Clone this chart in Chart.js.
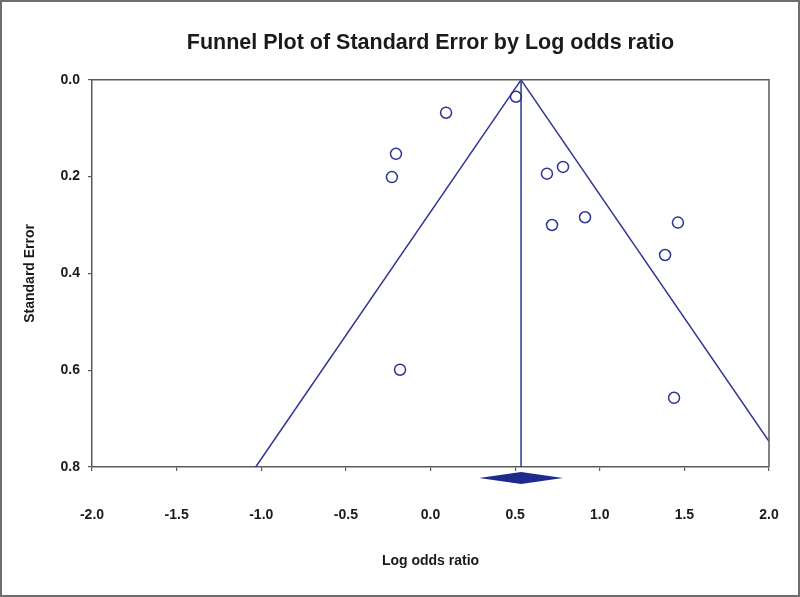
<!DOCTYPE html>
<html>
<head>
<meta charset="utf-8">
<script src="https://cdn.jsdelivr.net/npm/chart.js@4/dist/chart.umd.min.js"></script>
<style>
  html, body { margin: 0; padding: 0; background: #ffffff; }
  #wrap { width: 800px; height: 597px; position: relative; }
</style>
</head>
<body>
<div id="wrap"><canvas id="c" width="800" height="597"></canvas></div>
<script>
// Study points (Log odds ratio, Standard Error)
const studyLogOR = [0.505, 0.092, -0.204, -0.228, 0.688, 0.783, 0.913, 0.718, 1.462, 1.386, -0.180, 1.439];
const studySE    = [0.035, 0.068, 0.153, 0.201, 0.194, 0.180, 0.284, 0.300, 0.295, 0.362, 0.599, 0.657];

// Funnel (summary estimate and pseudo 95% limits)
const summaryX   = [0.535, 0.535];
const summaryY   = [0.0, 0.8];
const funnelLeftX  = [0.535, -1.033];
const funnelLeftY  = [0.0, 0.8];
const funnelRightX = [0.535, 2.0];
const funnelRightY = [0.0, 0.747];

// Summary diamond (below the axis)
const diamondX = [0.287, 0.535, 0.783, 0.535];
const diamondY = [0.8227, 0.8105, 0.8227, 0.835];

// Axis ticks
const xTicks = [-2.0, -1.5, -1.0, -0.5, 0.0, 0.5, 1.0, 1.5, 2.0];
const yTicks = [0.0, 0.2, 0.4, 0.6, 0.8];

const NAVY = '#2c3592';
const AXIS = '#5a5a5a';
const TEXT = '#1a1a1a';
const FONT = "Arial, 'Liberation Sans', Helvetica, sans-serif";

const zip = (xs, ys) => xs.map((x, i) => ({ x: x, y: ys[i] }));

const framePlugin = {
  id: 'frame',
  beforeDraw(chart) {
    const ctx = chart.ctx;
    ctx.save();
    ctx.fillStyle = '#ffffff';
    ctx.fillRect(0, 0, chart.width, chart.height);
    ctx.restore();
  },
  afterDraw(chart) {
    const ctx = chart.ctx;
    const a = chart.chartArea;
    ctx.save();
    // plot frame (top & right sides)
    ctx.strokeStyle = AXIS;
    ctx.lineWidth = 1.5;
    ctx.beginPath();
    ctx.moveTo(a.left, a.top);
    ctx.lineTo(a.right, a.top);
    ctx.lineTo(a.right, a.bottom);
    ctx.stroke();
    // summary diamond through scales
    const xs = chart.scales.x, ys = chart.scales.y;
    ctx.fillStyle = '#1e2a8c';
    ctx.beginPath();
    diamondX.forEach((v, i) => {
      const px = xs.getPixelForValue(v), py = ys.getPixelForValue(diamondY[i]);
      if (i === 0) ctx.moveTo(px, py); else ctx.lineTo(px, py);
    });
    ctx.closePath();
    ctx.fill();
    // outer border
    ctx.strokeStyle = '#6e6e6e';
    ctx.lineWidth = 2;
    ctx.strokeRect(1, 1, chart.width - 2, chart.height - 2);
    ctx.restore();
  }
};

const lineDs = (data) => ({
  type: 'line',
  data: data,
  showLine: true,
  borderColor: NAVY,
  borderWidth: 1.5,
  pointRadius: 0,
  fill: false,
  tension: 0
});

new Chart(document.getElementById('c'), {
  type: 'scatter',
  data: {
    datasets: [
      {
        data: zip(studyLogOR, studySE),
        pointStyle: 'circle',
        pointRadius: 5.5,
        pointHoverRadius: 5.5,
        borderColor: NAVY,
        backgroundColor: 'rgba(255,255,255,0)',
        borderWidth: 1.5
      },
      lineDs(zip(summaryX, summaryY)),
      lineDs(zip(funnelLeftX, funnelLeftY)),
      lineDs(zip(funnelRightX, funnelRightY))
    ]
  },
  options: {
    responsive: false,
    animation: false,
    events: [],
    layout: { padding: { left: 0, right: 31, top: 0, bottom: 0 } },
    plugins: {
      legend: { display: false },
      tooltip: { enabled: false },
      title: {
        display: true,
        fullSize: false,
        text: 'Funnel Plot of Standard Error by Log odds ratio',
        color: TEXT,
        font: { family: FONT, size: 21.5, weight: 'bold', lineHeight: 1.2 },
        padding: { top: 30, bottom: 24 }
      }
    },
    scales: {
      x: {
        type: 'linear',
        min: -2, max: 2,
        afterFit: (s) => { s.height = 130; s.paddingLeft = 0; s.paddingRight = 0; },
        afterBuildTicks: (s) => { s.ticks = xTicks.map(v => ({ value: v })); },
        ticks: {
          color: TEXT,
          padding: 36,
          maxRotation: 0,
          font: { family: FONT, size: 14, weight: 'bold' },
          callback: (v) => Number(v).toFixed(1)
        },
        grid: { drawOnChartArea: false, drawTicks: true, tickLength: 4, color: AXIS, lineWidth: 1.2 },
        border: { display: true, color: AXIS, width: 1.5 },
        title: {
          display: true,
          text: 'Log odds ratio',
          color: TEXT,
          font: { family: FONT, size: 14, weight: 'bold' },
          padding: { top: 0, bottom: 27 }
        }
      },
      y: {
        type: 'linear',
        reverse: true,
        min: 0, max: 0.8,
        afterFit: (s) => { s.width = 92; },
        afterBuildTicks: (s) => { s.ticks = yTicks.map(v => ({ value: v })); },
        ticks: {
          color: TEXT,
          padding: 8,
          font: { family: FONT, size: 14, weight: 'bold' },
          callback: (v) => Number(v).toFixed(1)
        },
        grid: { drawOnChartArea: false, drawTicks: true, tickLength: 4, color: AXIS, lineWidth: 1.2 },
        border: { display: true, color: AXIS, width: 1.5 },
        title: {
          display: true,
          text: 'Standard Error',
          color: TEXT,
          font: { family: FONT, size: 14, weight: 'bold' },
          padding: { top: 22, bottom: 0 }
        }
      }
    }
  },
  plugins: [framePlugin]
});
</script>
</body>
</html>
